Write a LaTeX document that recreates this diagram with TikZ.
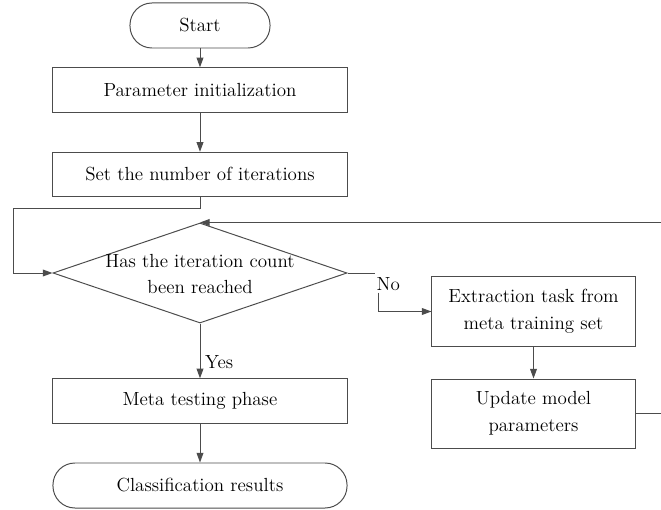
\documentclass[tikz,border=0pt]{standalone}
\usetikzlibrary{shapes.geometric,arrows.meta}

\tikzset{
  box/.style={draw=black!70, line width=0.7pt, rectangle, minimum width=7.35cm, minimum height=1.11cm, inner sep=0pt},
  sidebox/.style={draw=black!70, line width=0.7pt, rectangle, minimum width=5.075cm, minimum height=1.725cm, inner sep=0pt, align=center},
  term/.style={draw=black!70, line width=0.7pt, rectangle, rounded corners=0.55cm, minimum height=1.125cm, inner sep=0pt},
  decision/.style={draw=black!70, line width=0.7pt, diamond, minimum width=7.35cm, minimum height=2.5cm, inner sep=0pt},
  arrow/.style={draw=black!70, line width=0.7pt, -{Triangle[length=2.4mm,width=1.7mm]}},
  line/.style={draw=black!70, line width=0.7pt},
}

\begin{document}
\begin{tikzpicture}[x=0.025cm, y=-0.025cm, font=\fontsize{13.5}{19}\selectfont]
  \useasboundingbox (0,0) rectangle (661,510);
  \clip (0,0) rectangle (661,510);

  % main column
  \node[term, minimum width=3.5cm] (start) at (200,25.5) {Start};
  \node[box] (init) at (200,90) {Parameter initialization};
  \node[box] (iter) at (200,174.5) {Set the number of iterations};
  \node[decision] (cond) at (200,273) {};
  \node[align=center] (condtext) at (200,274) {Has the iteration count\\been reached};
  \node[box] (test) at (200,401) {Meta testing phase};
  \node[term, minimum width=7.35cm] (result) at (200,485.5) {Classification results};

  % training branch
  \node[sidebox] (ext) at (533.5,311.5) {Extraction task from\\meta training set};
  \node[sidebox] (upd) at (533.5,413.5) {Update model\\parameters};
  \node[inner sep=1pt, anchor=north west] (no) at (375,276) {No};

  \coordinate (lft) at (13,208);
  \coordinate (back) at (668,413.5);

  \draw[arrow] (start) -- (init);
  \draw[arrow] (init) -- (iter);
  \draw[arrow] (iter.south) |- (lft) |- (cond.west);
  \draw[arrow] (cond.south) -- node[right, pos=0.7] (yes) {Yes} (test.north);
  \draw[arrow] (test) -- (result);
  \draw[line] (cond.east) -- (no.north west |- cond.east);
  \draw[arrow] ([xshift=2.5pt]no.south west) |- (ext.west);
  \draw[arrow] (ext) -- (upd);
  \draw[arrow] (upd.east) -- (back) |- (cond.north);
\end{tikzpicture}
\end{document}
